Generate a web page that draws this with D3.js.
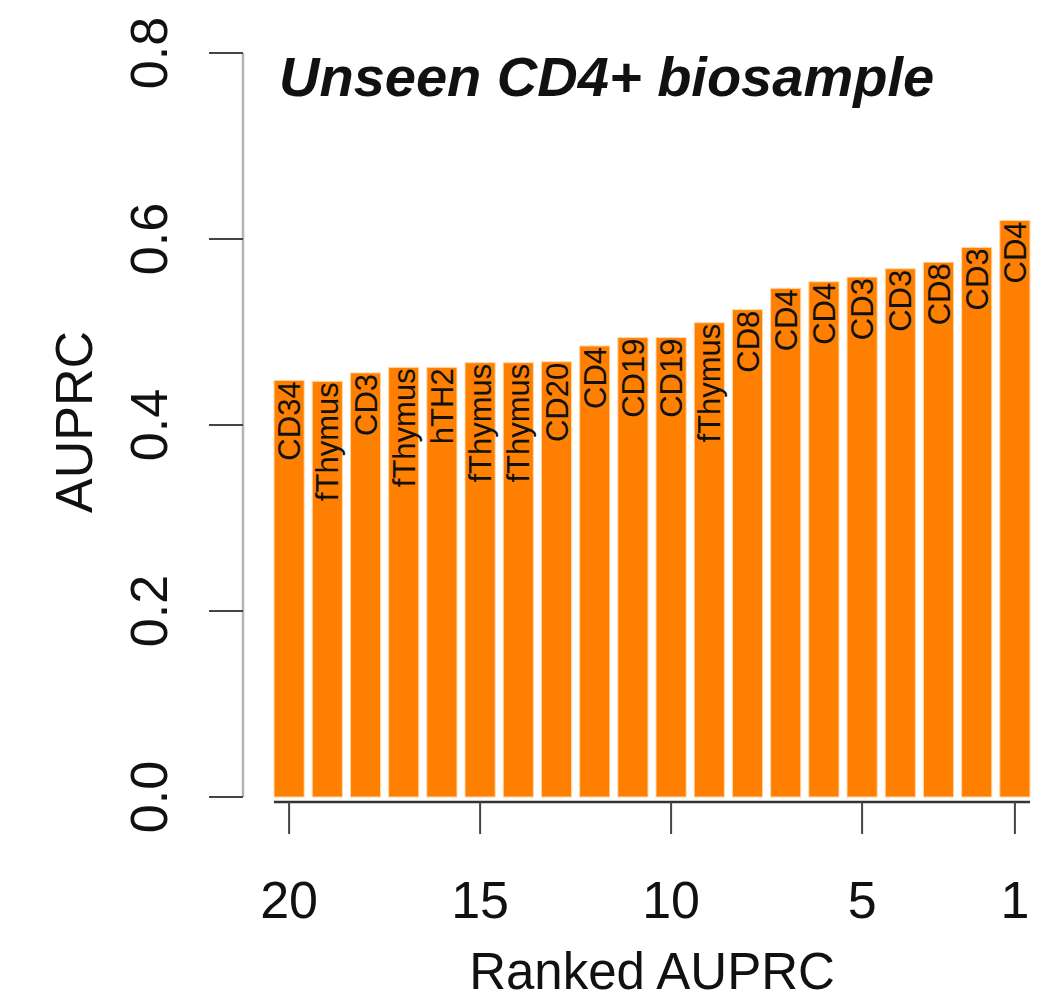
<!DOCTYPE html>
<html>
<head>
<meta charset="utf-8">
<script src="https://cdn.jsdelivr.net/npm/d3@7"></script>
<style>
  html, body { margin: 0; padding: 0; background: #ffffff; }
  svg { display: block; }
  text { font-family: "Liberation Sans", Arial, Helvetica, sans-serif; }
</style>
</head>
<body>
<script>
// ---- data (left to right: rank 20 ... rank 1) ----
const ranks = [20, 19, 18, 17, 16, 15, 14, 13, 12, 11, 10, 9, 8, 7, 6, 5, 4, 3, 2, 1];
const barLabels = ["CD34", "fThymus", "CD3", "fThymus", "hTH2", "fThymus", "fThymus", "CD20", "CD4", "CD19",
                   "CD19", "fThymus", "CD8", "CD4", "CD4", "CD3", "CD3", "CD8", "CD3", "CD4"];
const auprc = [0.448, 0.447, 0.456, 0.462, 0.462, 0.467, 0.467, 0.468, 0.485, 0.494,
               0.494, 0.510, 0.524, 0.547, 0.554, 0.559, 0.568, 0.575, 0.591, 0.620];
const yTicks = [0.0, 0.2, 0.4, 0.6, 0.8];
const xTicks = [20, 15, 10, 5, 1];
const title = "Unseen CD4+ biosample";
const xTitle = "Ranked AUPRC";
const yTitle = "AUPRC";

// ---- layout ----
const W = 1055, H = 1001;
const svg = d3.select("body").append("svg").attr("width", W).attr("height", H);

const y = d3.scaleLinear().domain([0, 0.8]).range([797, 53]);
const xb = d3.scaleBand().domain(d3.range(ranks.length))
  .range([270, 1034]).paddingInner(0.21).paddingOuter(0.105);
const xr = d3.scaleLinear().domain([20, 1])
  .range([xb(0) + xb.bandwidth() / 2, xb(19) + xb.bandwidth() / 2]);

// bars
svg.append("g").selectAll("rect").data(auprc).join("rect")
  .attr("x", (d, i) => xb(i))
  .attr("width", xb.bandwidth())
  .attr("y", d => y(d))
  .attr("height", d => y(0) - y(d))
  .attr("fill", "#ff7f00")
  .attr("stroke", "#ffd9a8")
  .attr("stroke-width", 1);

// bar labels
svg.append("g").selectAll("text").data(auprc).join("text")
  .attr("transform", (d, i) => `translate(${xb(i) + xb.bandwidth() / 2},${y(d) + 1}) rotate(-90)`)
  .attr("text-anchor", "end")
  .attr("dy", "0.36em")
  .attr("font-size", 31)
  .attr("fill", "#111")
  .text((d, i) => barLabels[i]);

// y axis
const yAxis = svg.append("g");
yAxis.append("line")
  .attr("x1", 243).attr("x2", 243).attr("y1", y(0.8)).attr("y2", y(0))
  .attr("stroke", "#b4b4b4").attr("stroke-width", 2.5);
yAxis.selectAll("line.tick").data(yTicks).join("line").attr("class", "tick")
  .attr("x1", 209).attr("x2", 243).attr("y1", d => y(d)).attr("y2", d => y(d))
  .attr("stroke", "#444").attr("stroke-width", 2);
yAxis.selectAll("text").data(yTicks).join("text")
  .attr("transform", d => `translate(167,${y(d)}) rotate(-90)`)
  .attr("text-anchor", "middle")
  .attr("font-size", 52)
  .attr("fill", "#111")
  .text(d => d3.format(".1f")(d));

// x axis
const xAxis = svg.append("g");
xAxis.append("line")
  .attr("x1", xb(0)).attr("x2", xb(19) + xb.bandwidth()).attr("y1", 802).attr("y2", 802)
  .attr("stroke", "#333").attr("stroke-width", 2.5);
xAxis.selectAll("line.tick").data(xTicks).join("line").attr("class", "tick")
  .attr("x1", d => xr(d)).attr("x2", d => xr(d)).attr("y1", 802).attr("y2", 834)
  .attr("stroke", "#444").attr("stroke-width", 2);
xAxis.selectAll("text").data(xTicks).join("text")
  .attr("x", d => xr(d)).attr("y", 918)
  .attr("text-anchor", "middle")
  .attr("font-size", 52)
  .attr("fill", "#111")
  .text(d => d);

// titles
svg.append("text")
  .attr("x", 652).attr("y", 989)
  .attr("text-anchor", "middle")
  .attr("font-size", 51)
  .attr("fill", "#111")
  .text(xTitle);

svg.append("text")
  .attr("transform", "translate(92,422) rotate(-90)")
  .attr("text-anchor", "middle")
  .attr("font-size", 52)
  .attr("fill", "#111")
  .text(yTitle);

svg.append("text")
  .attr("x", 279).attr("y", 96)
  .attr("font-size", 56)
  .attr("font-weight", "bold")
  .attr("font-style", "italic")
  .attr("fill", "#111")
  .text(title);
</script>
</body>
</html>
